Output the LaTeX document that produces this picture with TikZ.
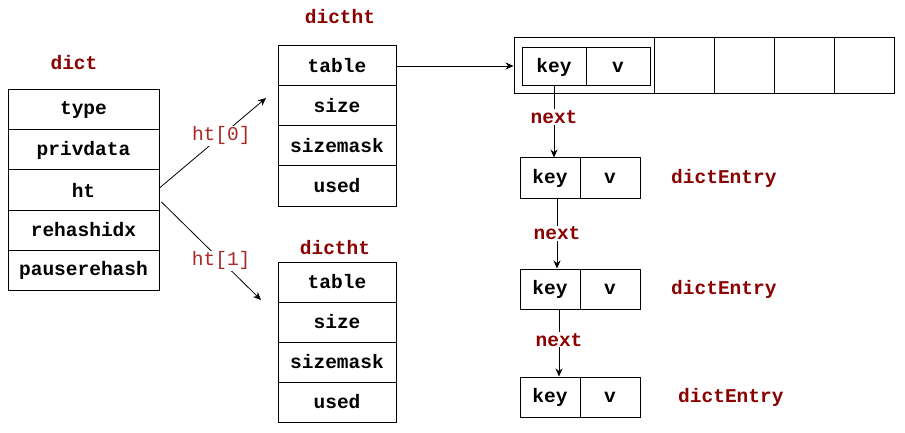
\documentclass[tikz,border=0pt]{standalone}
\usepackage{fontspec}
\setmonofont{Liberation Mono}
\usetikzlibrary{arrows.meta}
\definecolor{lbl}{RGB}{139,0,0}
\definecolor{htl}{RGB}{170,40,40}
\tikzset{
  cell/.style={draw, line width=1pt, inner sep=0pt, minimum height=40pt, font=\fontsize{19.5}{20}\ttfamily\bfseries},
  ttl/.style={inner sep=0pt, text=lbl, font=\fontsize{19.5}{20}\ttfamily\bfseries},
  conn/.style={line width=0.8pt, -{Stealth[length=8pt,width=7pt]}},
  htlab/.style={fill=white, inner sep=1pt, text=htl, font=\fontsize{19.5}{20}\ttfamily},
  nextlab/.style={fill=white, inner sep=1pt, text=lbl, font=\fontsize{19.5}{20}\ttfamily\bfseries},
}
\begin{document}
\begin{tikzpicture}[x=1pt,y=-1pt]
\useasboundingbox[fill=white] (0,0) rectangle (905,433);
% dict
\node[ttl] (dictl) at (74,63) {dict};
\foreach \n/\t/\y in {1/type/110,2/privdata/150,3/ht/190,4/rehashidx/230,5/pauserehash/270}
  \node[cell, minimum width=151pt] (d\n) at (83.5,\y) {\t};
% dictht top
\node[ttl] (htal) at (340,17) {dictht};
\foreach \n/\t/\y in {1/table/66,2/size/106,3/sizemask/146,4/used/186}
  \node[cell, minimum width=118pt] (a\n) at (337,\y) {\t};
% dictht bottom
\node[ttl] (htbl) at (335,248) {dictht};
\foreach \n/\t/\y in {1/table/282,2/size/322,3/sizemask/362,4/used/402}
  \node[cell, minimum width=118pt] (b\n) at (337,\y) {\t};
% ht arrows
\coordinate (h0) at (266,98);
\coordinate (h1) at (261,300);
\draw[conn] ([yshift=2pt]d3.east) -- node[htlab, pos=0.58] (ht0l) {ht[0]} (h0);
\draw[conn] ([xshift=2pt,yshift=-12pt]d3.east) -- node[htlab, pos=0.6] (ht1l) {ht[1]} (h1);
% table array
\node[cell, minimum width=140pt, minimum height=56pt] (t0) at (584,66) {};
\foreach \n/\x in {1/684,2/744,3/804,4/864}
  \node[cell, minimum width=60pt, minimum height=56pt] (t\n) at (\x,66) {};
\node[cell, minimum width=64pt, minimum height=38pt] (t0k) at (554,67) {key};
\node[cell, minimum width=64pt, minimum height=38pt] (t0v) at (618,67) {v};
\draw[conn] (a1.east) -- (t0.west);
% entries
\foreach \n/\y in {2/178,3/289,4/397}{
  \node[cell, minimum width=60pt] (e\n k) at (550,\y) {key};
  \node[cell, minimum width=60pt] (e\n v) at (610,\y) {v};
}
\node[ttl, anchor=west] (de2) at (671,178) {dictEntry};
\node[ttl, anchor=west] (de3) at (671,289) {dictEntry};
\node[ttl, anchor=west] (de4) at (678,397) {dictEntry};
% next arrows
\draw[conn] (t0k.south) -- node[nextlab, pos=0.43] (n1) {next} (t0k.south |- e2k.north);
\draw[conn] ([xshift=7pt]e2k.south) -- node[nextlab, pos=0.5] (n2) {next} ([xshift=7pt]e3k.north);
\draw[conn] ([xshift=9pt]e3k.south) -- node[nextlab, pos=0.45] (n3) {next} ([xshift=9pt]e4k.north);
\end{tikzpicture}
\end{document}
